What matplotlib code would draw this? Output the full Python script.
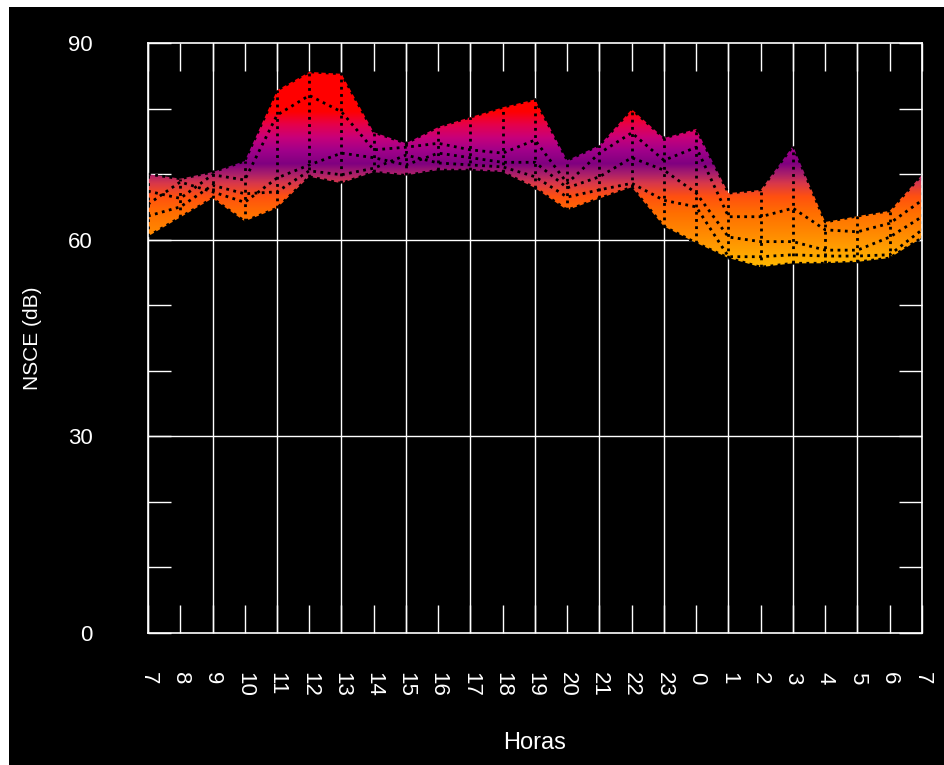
import numpy as np
import matplotlib
matplotlib.use("Agg")
import matplotlib.pyplot as plt
from matplotlib.colors import LinearSegmentedColormap
from matplotlib.patches import PathPatch, Rectangle
from matplotlib.path import Path

# ---------------- data ----------------
hours = list(range(25))
hour_labels = ["7", "8", "9", "10", "11", "12", "13", "14", "15", "16", "17", "18",
               "19", "20", "21", "22", "23", "0", "1", "2", "3", "4", "5", "6", "7"]

day1 = [70.0, 69.3, 70.3, 72.0, 82.8, 85.6, 85.3, 76.4, 74.7, 77.2, 78.7, 80.2, 81.4,
        72.1, 74.4, 79.9, 75.5, 76.9, 67.1, 67.6, 74.3, 62.7, 63.6, 64.4, 69.9]
day2 = [67.4, 66.3, 69.9, 69.1, 79.0, 82.0, 79.5, 73.7, 74.1, 74.7, 73.7, 73.2, 75.2,
        68.6, 73.2, 76.3, 72.1, 74.1, 63.5, 63.5, 64.8, 61.5, 61.2, 62.5, 66.0]
day3 = [65.4, 68.8, 67.3, 65.7, 69.4, 71.4, 73.2, 72.5, 71.4, 73.2, 72.5, 71.8, 71.8,
        67.9, 69.6, 72.5, 70.6, 67.1, 60.4, 59.7, 59.7, 58.4, 58.4, 60.4, 63.5]
day4 = [63.6, 65.0, 68.3, 67.0, 67.3, 70.5, 69.9, 70.9, 72.9, 71.7, 71.4, 71.1, 69.6,
        66.5, 67.6, 68.6, 66.0, 65.0, 57.4, 57.4, 57.7, 57.5, 57.5, 57.7, 61.5]
day5 = [60.5, 63.4, 66.3, 62.8, 64.8, 69.6, 68.6, 70.3, 69.8, 70.6, 70.6, 70.3, 67.9,
        64.5, 66.3, 68.0, 62.0, 59.5, 57.2, 55.8, 56.4, 56.4, 56.6, 57.2, 60.3]
days = [day1, day2, day3, day4, day5]

y_major = [0, 30, 60, 90]
y_minor = [10, 20, 40, 50, 70, 80]

# palette (z value -> colour)
pal_z = [50, 55, 58, 61, 64, 66.5, 68.5, 70.0, 71.5, 73.5, 75.5, 77.5, 79.5, 90]
pal_c = ["#FFD000", "#FFC000", "#FFA400", "#FF8800", "#FF6E00", "#FF5010", "#D8384A",
         "#A81E6C", "#800080", "#A0008A", "#C8007A", "#E6004A", "#FF0000", "#FF0000"]

# ---------------- figure ----------------
W, H = 945, 765
fig = plt.figure(figsize=(W / 100, H / 100), dpi=100, facecolor="black")
ax = fig.add_axes([148 / W, 132 / H, 774 / W, 590 / H])
ax.set_facecolor("black")

vmin, vmax = pal_z[0], pal_z[-1]
cmap = LinearSegmentedColormap.from_list(
    "pal", [((z - vmin) / (vmax - vmin), c) for z, c in zip(pal_z, pal_c)])

# envelope of the surface (front view)
xs = np.linspace(hours[0], hours[-1], 4801)
vals = np.array([np.interp(xs, hours, d) for d in days])
top = vals.max(axis=0)
bot = vals.min(axis=0)
verts = np.concatenate([np.column_stack([xs, top]), np.column_stack([xs[::-1], bot[::-1]])])
patch = PathPatch(Path(verts), transform=ax.transData, facecolor="none", edgecolor="none")
ax.add_patch(patch)

zgrid = np.linspace(vmin, vmax, 1000)[:, None] * np.ones((1, 2))
im = ax.imshow(zgrid, extent=[hours[0], hours[-1], vmin, vmax], origin="lower",
               aspect="auto", cmap=cmap, vmin=vmin, vmax=vmax,
               interpolation="bilinear", zorder=2)
im.set_clip_path(patch)

# mesh lines (dotted black)
dot = (0, (1, 1.6))
for d in days:
    ax.plot(hours, d, color="black", lw=2.0, linestyle=dot, zorder=3)
for i, h in enumerate(hours):
    col = [d[i] for d in days]
    ax.plot([h, h], [min(col), max(col)], color="black", lw=2.0, linestyle=dot, zorder=3)

# grid
for h in hours[::2]:
    ax.axvline(h, color="white", lw=1.0, zorder=1)
for y in y_major[1:-1]:
    ax.axhline(y, color="white", lw=1.0, zorder=1)

ax.set_xlim(hours[0], hours[-1])
ax.set_ylim(0, 90)

font = "Liberation Sans"
ax.set_xticks(hours)
ax.set_xticklabels(hour_labels, rotation=-90, fontsize=16, color="white", family=font,
                   va="top", ha="center")
ax.tick_params(axis="x", which="both", direction="in", length=20, width=1,
               colors="white", top=True, bottom=True, pad=28)
ax.set_yticks(y_major)
ax.set_yticks(y_minor, minor=True)
ax.set_yticklabels([str(v) for v in y_major], fontsize=16, color="white", family=font)
ax.tick_params(axis="y", which="both", direction="in", length=16.5, width=1,
               colors="white", left=True, right=True, pad=40)

for s in ax.spines.values():
    s.set_color("white")
    s.set_linewidth(1.2)
    s.set_zorder(4)

fig.text(33 / W, 1 - 338 / H, "NSCE (dB)", rotation=90, ha="center", va="center",
         color="white", fontsize=15, family=font)
fig.text(535 / W, 1 - 743 / H, "Horas", ha="center", va="center",
         color="white", fontsize=17, family=font)

# white frame strips at the top and left edges
fig.patches.append(Rectangle((0, 0), 9 / W, 1, transform=fig.transFigure,
                             facecolor="white", edgecolor="none", zorder=10))
fig.patches.append(Rectangle((0, 1 - 7 / H), 1, 7 / H, transform=fig.transFigure,
                             facecolor="white", edgecolor="none", zorder=10))

fig.savefig("out.png", dpi=100, facecolor="black")
